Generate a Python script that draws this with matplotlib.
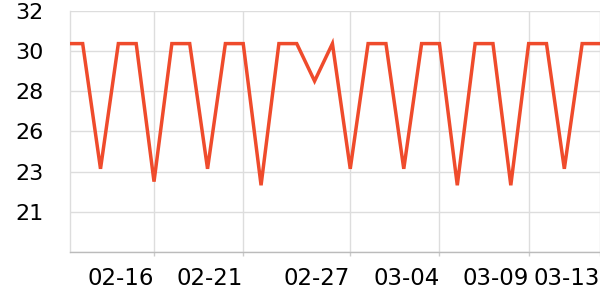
import numpy as np
import matplotlib
matplotlib.use("Agg")
import matplotlib.pyplot as plt

# daily readings, 02-11 .. 03-13
dates = ["02-11", "02-12", "02-13", "02-14", "02-15", "02-16", "02-17", "02-18",
         "02-19", "02-20", "02-21", "02-22", "02-23", "02-24", "02-25", "02-26",
         "02-27", "02-28", "03-01", "03-02", "03-03", "03-04", "03-05", "03-06",
         "03-07", "03-08", "03-09", "03-10", "03-11", "03-12", "03-13"]
values = [30.4, 30.4, 23.55, 30.4, 30.4, 22.85, 30.4, 30.4,
          23.55, 30.4, 30.4, 22.65, 30.4, 30.4, 28.35, 30.4,
          23.55, 30.4, 30.4, 23.55, 30.4, 30.4, 22.65, 30.4,
          30.4, 22.65, 30.4, 30.4, 23.55, 30.4, 30.4]

x_tick_labels = ["02-16", "02-21", "02-27", "03-04", "03-09", "03-13"]
y_tick_labels = ["", "21", "23", "26", "28", "30", "32"]
y_min, y_max = 19.0, 32.2

line_color = "#ef4b2c"
grid_color = "#dddddd"

fig = plt.figure(figsize=(6, 3), dpi=100)
ax = fig.add_axes([70 / 600, 48 / 300, 530 / 600, 241.3 / 300])

x = np.arange(len(dates))
ax.plot(x, values, color=line_color, linewidth=2.5, solid_joinstyle="miter", zorder=3)

# axes ranges
ax.set_xlim(0.29, len(dates) - 1)
ax.set_ylim(y_min, y_max)

xt = [dates.index(d) for d in x_tick_labels]
ax.set_xticks(xt)
ax.set_xticklabels(x_tick_labels, ha="right")
ax.set_yticks(np.linspace(y_min, y_max, len(y_tick_labels)))
ax.set_yticklabels(y_tick_labels)

ax.grid(True, color=grid_color, linewidth=1)
ax.set_axisbelow(True)

for side in ("top", "right"):
    ax.spines[side].set_visible(False)
ax.spines["left"].set_color(grid_color)
ax.spines["left"].set_linewidth(1)
ax.spines["bottom"].set_color("#bbbbbb")
ax.spines["bottom"].set_linewidth(1)

ax.tick_params(axis="y", length=0, pad=19, labelsize=16, colors="black")
ax.tick_params(axis="x", length=3, width=1, color="#cccccc", pad=8,
               labelsize=16.5, labelcolor="black")

fig.savefig("out.png", dpi=100)
